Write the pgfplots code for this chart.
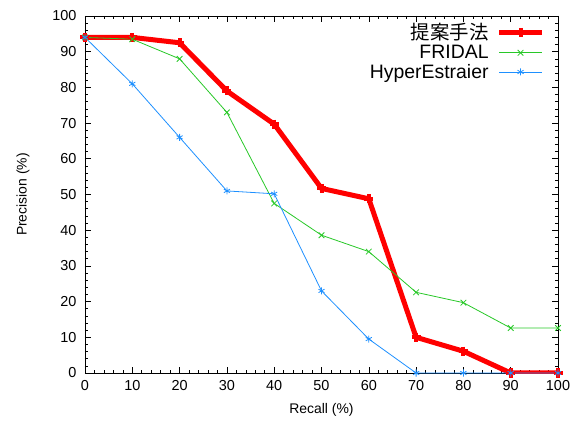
\documentclass[border=0pt]{standalone}
\usepackage{fontspec}
\setmainfont{Liberation Sans}
\newfontfamily\jpfont{Noto Sans CJK JP}
\usepackage{pgfplots}
\pgfplotsset{compat=1.18}

\definecolor{pred}{RGB}{255,0,0}
\definecolor{pgreen}{RGB}{40,200,40}
\definecolor{pblue}{RGB}{30,144,255}

\begin{document}
\begin{tikzpicture}
\begin{axis}[
    name=ax,
    scale only axis,
    width=473bp, height=357bp,
    xmin=0, xmax=100, ymin=0, ymax=100,
    xtick={0,10,...,100}, ytick={0,10,...,100},
    minor x tick num=4, minor y tick num=4,
    tick align=inside,
    major tick length=6bp, minor tick length=3bp,
    tick style={black, line width=0.6bp},
    axis line style={line width=0.8bp},
    /pgf/number format/assume math mode=true,
    ticklabel style={font=\fontsize{14.5}{17}\selectfont},
    xticklabel style={yshift=-4bp},
    yticklabel style={xshift=-5bp},
    label style={font=\fontsize{14}{17}\selectfont},
    xlabel={Recall (\%)},
    ylabel={Precision (\%)},
    xlabel style={at={(axis description cs:0.5,-0.104)}, anchor=center},
    ylabel style={at={(axis description cs:-0.131,0.5)}, anchor=center},
    legend cell align=right,
    legend plot pos=right,
    legend style={draw=none, fill=none, at={(0.972,0.985)}, anchor=north east,
        font=\fontsize{19.5}{23}\selectfont, inner sep=0pt, row sep=0pt},
    legend image code/.code={\path (0bp,0bp);
        \draw[mark repeat=2, mark phase=2, #1] plot coordinates {(6bp,0bp) (27.5bp,0bp) (49bp,0bp)};},
]
\addplot[color=pred, line width=5bp, mark=+, mark size=4.5bp, mark options={line width=4bp}]
  coordinates {(0,94) (10,94) (20,92.5) (30,79) (40,69.7) (50,51.7) (60,48.8) (70,10) (80,6.1) (90,0) (100,0)};
\addlegendentry{{\jpfont 提案手法}}
\addplot[color=pgreen, line width=0.8bp, mark=x, mark size=4bp]
  coordinates {(0,94) (10,93.5) (20,88) (30,73) (40,47.5) (50,38.6) (60,34) (70,22.6) (80,19.7) (90,12.6) (100,12.6)};
\addlegendentry{FRIDAL}
\addplot[color=pblue, line width=0.8bp, mark=asterisk, mark size=3.5bp]
  coordinates {(0,94) (10,81) (20,66) (30,51) (40,50.2) (50,23) (60,9.5) (70,0) (80,0) (90,0) (100,0)};
\addlegendentry{HyperEstraier}
\end{axis}
\path (ax.south west) ++(-85bp,-52bp);
\path (ax.north east) ++(19bp,16bp);
\end{tikzpicture}
\end{document}
